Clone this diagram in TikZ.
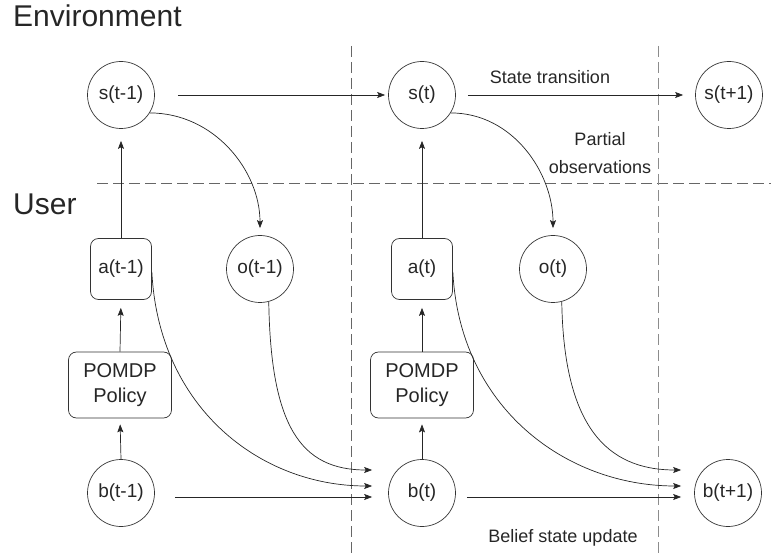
\documentclass[tikz,border=0pt]{standalone}
\usepackage{fontspec}
\setmainfont{Liberation Sans}
\usetikzlibrary{arrows.meta}
\begin{document}
\begin{tikzpicture}[x=1pt,y=-1pt,
  every node/.style={text=black!85},
  statenode/.style={circle, draw=black!80, line width=0.7pt, minimum size=67pt,
    inner sep=0pt, font=\fontsize{19}{22}\selectfont},
  actnode/.style={rectangle, rounded corners=8pt, draw=black!80, line width=0.7pt,
    minimum width=61pt, minimum height=61pt, inner sep=0pt, font=\fontsize{19}{22}\selectfont},
  policynode/.style={rectangle, rounded corners=8pt, draw=black!80, line width=0.7pt,
    minimum width=103pt, minimum height=66pt, inner sep=0pt, align=center,
    font=\fontsize{20}{25}\selectfont},
  flow/.style={draw=black!85, line width=0.7pt, -{Stealth[length=8pt,width=6pt,inset=1.5pt]}},
  sepline/.style={draw=black!60, line width=0.7pt, dash pattern=on 11pt off 5pt},
  lbl/.style={font=\fontsize{18}{28}\selectfont, align=center, inner sep=0pt},
  region/.style={font=\fontsize{30}{34}\selectfont, inner sep=0pt, anchor=base west}
]
\useasboundingbox (0,0) rectangle (771,553);

% time-slice separators and the environment/user boundary
\draw[sepline] (97,183) -- (771,183);
\draw[sepline] (351,46) -- (351,553);
\draw[sepline, draw=black!45] (658,46) -- (658,553);

% region titles
\node[region] (env) at (13,27) {Environment};
\node[region] (usr) at (13,215) {User};

% hidden states
\node[statenode] (s1) at (121,95) {s(t-1)};
\node[statenode] (s2) at (422,95) {s(t)};
\node[statenode] (s3) at (729,95) {s(t+1)};

% actions and observations
\node[actnode] (a1) at (121,269) {a(t-1)};
\node[statenode] (o1) at (260,269) {o(t-1)};
\node[actnode] (a2) at (422,269) {a(t)};
\node[statenode] (o2) at (553,269) {o(t)};

% policies
\node[policynode] (p1) at (120,385) {POMDP\\Policy};
\node[policynode] (p2) at (422,385) {POMDP\\Policy};

% belief states
\node[statenode] (b1) at (121,493) {b(t-1)};
\node[statenode] (b2) at (422,493) {b(t)};
\node[statenode] (b3) at (728,493) {b(t+1)};

% state transitions
\draw[flow, shorten <=23pt, shorten >=3pt] (s1) -- (s2);
\draw[flow, shorten <=12pt, shorten >=12pt] (s2) -- (s3);

% partial observations
\draw[flow, shorten >=7pt] (s1.-32) to[out=0, in=90] (o1.north);
\draw[flow, shorten >=7pt] (s2.-32) to[out=0, in=90] (o2.north);

% actions act on the environment
\draw[flow, shorten >=12pt] (a1.north) -- (s1.south);
\draw[flow, shorten >=12pt] (a2.north) -- (s2.south);

% policy chooses the action from the belief
\draw[flow, shorten >=8pt] (p1.north) -- (a1.south);
\draw[flow, shorten >=8pt] (p2.north) -- (a2.south);
\draw[flow, shorten >=6pt] (b1.north) -- (p1.south);
\draw[flow, shorten >=6pt] (b2.north) -- (p2.south);

% belief state update
\draw[flow, shorten <=20pt, shorten >=16pt] ([yshift=-4pt]b1.east) -- ([yshift=-4pt]b2.west);
\draw[flow, shorten <=11pt, shorten >=13pt] ([yshift=-4pt]b2.east) -- ([yshift=-4pt]b3.west);
\draw[flow, shorten >=16pt] ([yshift=-3pt]a1.east) .. controls +(7,136) and +(-128,0) .. ([yshift=7pt]b2.west);
\draw[flow, shorten >=16pt] (o1.-75) .. controls +(2,124) and +(-88,0) .. ([yshift=23pt]b2.west);
\draw[flow, shorten >=13pt] ([yshift=-3pt]a2.east) .. controls +(7,136) and +(-128,0) .. ([yshift=7pt]b3.west);
\draw[flow, shorten >=13pt] (o2.-75) .. controls +(2,124) and +(-88,0) .. ([yshift=23pt]b3.west);

% annotations
\node[lbl] (lt) at (550,77) {State transition};
\node[lbl] (lo) at (600,153) {Partial\\observations};
\node[lbl] (lb) at (563,538) {Belief state update};
\end{tikzpicture}
\end{document}
